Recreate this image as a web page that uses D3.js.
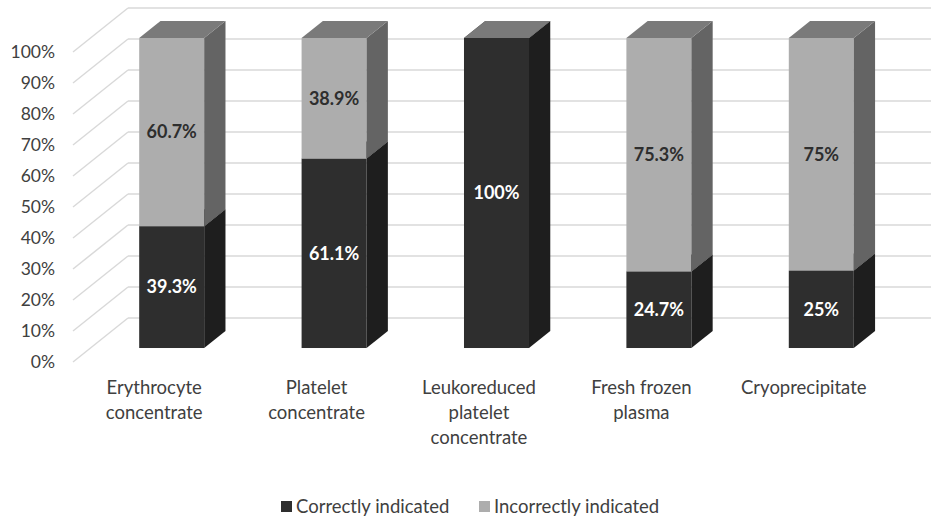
<!DOCTYPE html>
<html>
<head>
<meta charset="utf-8">
<script src="https://cdn.jsdelivr.net/npm/d3@7"></script>
<style>
  html, body { margin: 0; padding: 0; background: #fff; }
  svg { display: block; font-family: Lato, "Open Sans", sans-serif; }
</style>
</head>
<body>
<svg id="chart" width="931" height="517"></svg>
<script>
// Blood component categories (multi-line labels)
const categories = [
  ["Erythrocyte", "concentrate"],
  ["Platelet", "concentrate"],
  ["Leukoreduced", "platelet", "concentrate"],
  ["Fresh frozen", "plasma"],
  ["Cryoprecipitate"]
];
const seriesNames = ["Correctly indicated", "Incorrectly indicated"];
const correct = [39.3, 61.1, 100, 24.7, 25];
const incorrect = [60.7, 38.9, 0, 75.3, 75];
const tickValues = [0, 10, 20, 30, 40, 50, 60, 70, 80, 90, 100];

const W = 931, H = 517;
const svg = d3.select("#chart");

// Oblique 3D projection: depth z in [0,1]
const depthX = 55, depthY = 44;
const xBand = d3.scaleBand().domain(d3.range(categories.length)).range([73, 885]);
const y = d3.scaleLinear().domain([0, 100]).range([362, 52]);
const proj = (px, v, z) => [px + z * depthX, y(v) - z * depthY];

const gridColor = "#d9d9d9";
const grid = svg.append("g");
tickValues.forEach(t => {
  const f = proj(73, t, 0), b = proj(73, t, 1);
  grid.append("line").attr("x1", f[0]).attr("y1", f[1]).attr("x2", b[0]).attr("y2", b[1])
    .attr("stroke", gridColor).attr("stroke-width", 1.5);
  grid.append("line").attr("x1", b[0]).attr("y1", b[1]).attr("x2", W + 20).attr("y2", b[1])
    .attr("stroke", gridColor).attr("stroke-width", 1.5);
});

// Y axis tick labels
svg.append("g").selectAll("text").data(tickValues).join("text")
  .attr("x", 55).attr("y", d => y(d)).attr("dy", "0.35em")
  .attr("text-anchor", "end").attr("font-size", 17.5).attr("fill", "#404040")
  .text(d => d + "%");

const colors = {
  dark: { front: "#2e2e2e", side: "#1e1e1e", top: "#3a3a3a" },
  light: { front: "#adadad", side: "#646464", top: "#7a7a7a" }
};
const z0 = 0.318, z1 = 0.705;
const barW = 65;
const pts = a => a.map(p => p.join(",")).join(" ");

const bars = svg.append("g");
function drawSegment(g, cx, v0, v1, c) {
  const xl = cx - barW / 2, xr = cx + barW / 2;
  // front face
  const fl0 = proj(xl, v0, z0), fr1 = proj(xr, v1, z0);
  g.append("rect").attr("x", fl0[0]).attr("y", fr1[1]).attr("width", barW).attr("height", Math.max(0, fl0[1] - fr1[1]))
    .attr("fill", c.front);
  // side face
  g.append("polygon").attr("points", pts([proj(xr, v0, z0), proj(xr, v0, z1), proj(xr, v1, z1), proj(xr, v1, z0)]))
    .attr("fill", c.side);
  // top face
  g.append("polygon").attr("points", pts([proj(xl, v1, z0), proj(xr, v1, z0), proj(xr, v1, z1), proj(xl, v1, z1)]))
    .attr("fill", c.top);
}

categories.forEach((cat, i) => {
  const cx = xBand(i) + xBand.bandwidth() / 2;
  const g = bars.append("g");
  drawSegment(g, cx, 0, correct[i], colors.dark);
  drawSegment(g, cx, correct[i], correct[i] + incorrect[i], colors.light);
  const fx = cx + z0 * depthX;
  if (correct[i] > 0) {
    g.append("text").attr("x", fx).attr("y", y(correct[i] / 2) - z0 * depthY).attr("dy", "0.35em")
      .attr("text-anchor", "middle").attr("font-size", 18).attr("font-weight", "bold").attr("fill", "#ffffff")
      .text(correct[i] + "%");
  }
  if (incorrect[i] > 0) {
    g.append("text").attr("x", fx).attr("y", y(correct[i] + incorrect[i] / 2) - z0 * depthY).attr("dy", "0.35em")
      .attr("text-anchor", "middle").attr("font-size", 18).attr("font-weight", "bold").attr("fill", "#2e2e2e")
      .text(incorrect[i] + "%");
  }
});

// Category labels
const catG = svg.append("g");
categories.forEach((lines, i) => {
  const cx = xBand(i) + xBand.bandwidth() / 2;
  const t = catG.append("text").attr("text-anchor", "middle").attr("font-size", 18.5).attr("fill", "#404040");
  lines.forEach((ln, j) => {
    t.append("tspan").attr("x", cx).attr("y", 394 + j * 25).text(ln);
  });
});

// Legend
const legend = svg.append("g");
const legendItems = [
  { name: seriesNames[0], color: colors.dark.front, x: 281 },
  { name: seriesNames[1], color: colors.light.front, x: 479 }
];
legendItems.forEach(d => {
  legend.append("rect").attr("x", d.x).attr("y", 501).attr("width", 11).attr("height", 11).attr("fill", d.color);
  legend.append("text").attr("x", d.x + 15).attr("y", 507).attr("dy", "0.35em")
    .attr("font-size", 18.5).attr("fill", "#404040").text(d.name);
});
</script>
</body>
</html>
